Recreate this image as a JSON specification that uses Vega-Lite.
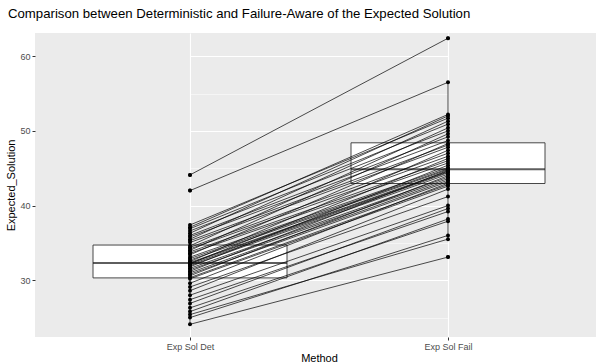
{
  "$schema": "https://vega.github.io/schema/vega-lite/v6.json",
  "autosize": "none",
  "width": 561,
  "height": 304,
  "padding": {"left": 35, "top": 33, "right": 0, "bottom": 27},
  "background": "white",
  "title": {
    "text": "Comparison between Deterministic and Failure-Aware of the Expected Solution",
    "anchor": "start",
    "frame": "group",
    "dx": -27,
    "offset": 2,
    "baseline": "alphabetic",
    "font": "Liberation Sans",
    "fontSize": 13.2,
    "fontWeight": "normal",
    "color": "black"
  },
  "config": {
    "view": {"fill": "#ebebeb", "stroke": null},
    "axis": {
      "domain": false,
      "gridColor": "white",
      "tickColor": "#333333",
      "tickSize": 3,
      "labelFont": "Liberation Sans",
      "labelFontSize": 9,
      "labelColor": "#4d4d4d",
      "labelPadding": 2,
      "titleFont": "Liberation Sans",
      "titleFontSize": 11,
      "titleFontWeight": "normal",
      "titleColor": "black"
    }
  },
  "data": {
    "values": [
      {"id": 1, "Exp Sol Det": 24.1, "Exp Sol Fail": 33.1},
      {"id": 2, "Exp Sol Det": 25.0, "Exp Sol Fail": 36.0},
      {"id": 3, "Exp Sol Det": 25.4, "Exp Sol Fail": 35.5},
      {"id": 4, "Exp Sol Det": 25.8, "Exp Sol Fail": 38.2},
      {"id": 5, "Exp Sol Det": 26.3, "Exp Sol Fail": 37.9},
      {"id": 6, "Exp Sol Det": 26.9, "Exp Sol Fail": 39.6},
      {"id": 7, "Exp Sol Det": 27.4, "Exp Sol Fail": 39.2},
      {"id": 8, "Exp Sol Det": 28.0, "Exp Sol Fail": 40.0},
      {"id": 9, "Exp Sol Det": 28.6, "Exp Sol Fail": 42.2},
      {"id": 10, "Exp Sol Det": 29.1, "Exp Sol Fail": 41.2},
      {"id": 11, "Exp Sol Det": 29.6, "Exp Sol Fail": 43.0},
      {"id": 12, "Exp Sol Det": 30.2, "Exp Sol Fail": 42.6},
      {"id": 13, "Exp Sol Det": 30.35, "Exp Sol Fail": 42.8},
      {"id": 14, "Exp Sol Det": 30.6, "Exp Sol Fail": 44.0},
      {"id": 15, "Exp Sol Det": 30.8, "Exp Sol Fail": 43.2},
      {"id": 16, "Exp Sol Det": 31.0, "Exp Sol Fail": 43.4},
      {"id": 17, "Exp Sol Det": 31.2, "Exp Sol Fail": 44.7},
      {"id": 18, "Exp Sol Det": 31.4, "Exp Sol Fail": 43.6},
      {"id": 19, "Exp Sol Det": 31.6, "Exp Sol Fail": 43.8},
      {"id": 20, "Exp Sol Det": 31.8, "Exp Sol Fail": 45.4},
      {"id": 21, "Exp Sol Det": 31.95, "Exp Sol Fail": 44.2},
      {"id": 22, "Exp Sol Det": 32.1, "Exp Sol Fail": 44.4},
      {"id": 23, "Exp Sol Det": 32.2, "Exp Sol Fail": 46.3},
      {"id": 24, "Exp Sol Det": 32.27, "Exp Sol Fail": 44.5},
      {"id": 25, "Exp Sol Det": 32.37, "Exp Sol Fail": 44.6},
      {"id": 26, "Exp Sol Det": 32.5, "Exp Sol Fail": 47.4},
      {"id": 27, "Exp Sol Det": 32.7, "Exp Sol Fail": 44.8},
      {"id": 28, "Exp Sol Det": 32.9, "Exp Sol Fail": 44.92},
      {"id": 29, "Exp Sol Det": 33.1, "Exp Sol Fail": 45.1},
      {"id": 30, "Exp Sol Det": 33.4, "Exp Sol Fail": 48.3},
      {"id": 31, "Exp Sol Det": 33.6, "Exp Sol Fail": 45.7},
      {"id": 32, "Exp Sol Det": 33.8, "Exp Sol Fail": 46.0},
      {"id": 33, "Exp Sol Det": 34.0, "Exp Sol Fail": 49.6},
      {"id": 34, "Exp Sol Det": 34.2, "Exp Sol Fail": 46.6},
      {"id": 35, "Exp Sol Det": 34.4, "Exp Sol Fail": 47.0},
      {"id": 36, "Exp Sol Det": 34.6, "Exp Sol Fail": 50.4},
      {"id": 37, "Exp Sol Det": 35.05, "Exp Sol Fail": 47.8},
      {"id": 38, "Exp Sol Det": 35.3, "Exp Sol Fail": 48.1},
      {"id": 39, "Exp Sol Det": 35.5, "Exp Sol Fail": 51.3},
      {"id": 40, "Exp Sol Det": 35.8, "Exp Sol Fail": 48.7},
      {"id": 41, "Exp Sol Det": 36.0, "Exp Sol Fail": 49.2},
      {"id": 42, "Exp Sol Det": 36.3, "Exp Sol Fail": 52.0},
      {"id": 43, "Exp Sol Det": 36.6, "Exp Sol Fail": 50.0},
      {"id": 44, "Exp Sol Det": 36.9, "Exp Sol Fail": 50.9},
      {"id": 45, "Exp Sol Det": 37.1, "Exp Sol Fail": 52.2},
      {"id": 46, "Exp Sol Det": 37.4, "Exp Sol Fail": 51.7},
      {"id": 47, "Exp Sol Det": 42.0, "Exp Sol Fail": 56.5},
      {"id": 48, "Exp Sol Det": 44.1, "Exp Sol Fail": 62.4}
    ]
  },
  "transform": [
    {"fold": ["Exp Sol Det", "Exp Sol Fail"], "as": ["Method", "Expected_Solution"]}
  ],
  "encoding": {
    "x": {
      "field": "Method",
      "type": "nominal",
      "sort": ["Exp Sol Det", "Exp Sol Fail"],
      "scale": {"type": "point", "range": [155, 413], "padding": 0},
      "axis": {"labelAngle": 0, "grid": true, "gridWidth": 1.1, "title": "Method", "titlePadding": 1}
    },
    "y": {
      "field": "Expected_Solution",
      "type": "quantitative",
      "scale": {"domain": [22.4, 63.1], "nice": false, "zero": false},
      "axis": {
        "title": "Expected_Solution",
        "values": [25, 30, 35, 40, 45, 50, 55, 60],
        "labelExpr": "datum.value % 10 === 5 ? '' : datum.label",
        "gridWidth": {"condition": {"test": "datum.value % 10 === 5", "value": 0.5}, "value": 1.1},
        "tickOpacity": {"condition": {"test": "datum.value % 10 === 5", "value": 0}, "value": 1},
        "titlePadding": 3
      }
    }
  },
  "layer": [
    {
      "mark": {
        "type": "boxplot",
        "extent": 1.5,
        "size": 194,
        "ticks": false,
        "box": {"fill": "white", "stroke": "#333333", "strokeWidth": 0.9},
        "median": {"color": "#1a1a1a", "thickness": 2},
        "rule": {"color": "#333333", "strokeWidth": 0.9},
        "outliers": {"filled": true, "color": "black", "size": 16}
      }
    },
    {
      "mark": {"type": "line", "color": "black", "strokeWidth": 0.7},
      "encoding": {"detail": {"field": "id", "type": "nominal"}}
    },
    {
      "mark": {"type": "point", "filled": true, "color": "black", "size": 16, "opacity": 1}
    }
  ]
}
